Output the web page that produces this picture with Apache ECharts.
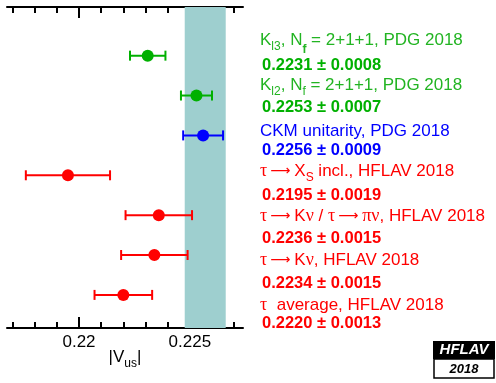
<!DOCTYPE html>
<html>
<head>
<meta charset="utf-8">
<script src="https://cdn.jsdelivr.net/npm/echarts@6/dist/echarts.min.js"></script>
<style>
  html, body { margin: 0; padding: 0; background: #fff; }
  #main { width: 496px; height: 383px; }
</style>
</head>
<body>
<div id="main"></div>
<script>
// measurements, top to bottom
const names = [
  '{t|K}{sub|l3}{t|, N}{subb|f}{t| = 2+1+1, PDG 2018}',
  '{t|K}{sub|l2}{t|, N}{sub|f}{t| = 2+1+1, PDG 2018}',
  '{t|CKM unitarity, PDG 2018}',
  '{g|τ}{arr|⟶}{t|X}{sub|S}{t| incl., HFLAV 2018}',
  '{g|τ}{arr|⟶}{t|K}{g|ν}{t| / }{g|τ}{arr|⟶}{g|πν}{t|, HFLAV 2018}',
  '{g|τ}{arr|⟶}{t|K}{g|ν}{t|, HFLAV 2018}',
  '{g|τ}{t|  average, HFLAV 2018}'
];
const values = [0.2231, 0.2253, 0.2256, 0.2195, 0.2236, 0.2234, 0.2220];
const errors = [0.0008, 0.0007, 0.0009, 0.0019, 0.0015, 0.0015, 0.0013];
const rows = [6, 5, 4, 3, 2, 1, 0];
const colors = ['#00b000', '#00b000', '#0000ff', '#ff0000', '#ff0000', '#ff0000', '#ff0000'];
const textColors = ['#22b422', '#22b422', '#0000ff', '#ff0000', '#ff0000', '#ff0000', '#ff0000'];
const band = [0.22477, 0.22662];

const xMin = 0.21675, xMax = 0.2274;
const majorTicks = [0.22, 0.225];
const minorTicks = [0.217, 0.218, 0.219, 0.220, 0.221, 0.222, 0.223, 0.224, 0.225, 0.226, 0.227];

// label positions (text middle, px)
const nameY = [40, 85, 131, 171, 216, 260, 305];
const valueY = [65, 107, 150, 195, 238, 283, 323];

const chart = echarts.init(document.getElementById('main'));

const richStyles = {
  t: { fontSize: 17, fontFamily: 'Liberation Sans', lineHeight: 20 },
  g: { fontSize: 18, fontFamily: 'Liberation Serif', lineHeight: 20 },
  arr: { fontSize: 14, fontFamily: 'DejaVu Sans', lineHeight: 20, padding: [0, 4, 0, 3] },
  sub: { fontSize: 12, fontFamily: 'Liberation Sans', lineHeight: 13, verticalAlign: 'bottom', padding: [0, 0, -3, 0] },
  subb: { fontSize: 12, fontWeight: 'bold', fontFamily: 'Liberation Sans', lineHeight: 13, verticalAlign: 'bottom', padding: [0, 0, -6, 0] }
};

const graphics = [];
names.forEach(function (n, i) {
  graphics.push({
    type: 'text', x: 260, y: nameY[i],
    style: { text: n, fill: textColors[i], rich: richStyles, font: '17px Liberation Sans', verticalAlign: 'middle' }
  });
  graphics.push({
    type: 'text', x: 262, y: valueY[i],
    style: {
      text: values[i].toFixed(4) + ' ± ' + errors[i].toFixed(4),
      fill: colors[i], font: 'bold 16.5px Liberation Sans', verticalAlign: 'middle'
    }
  });
});
// HFLAV logo
graphics.push({ type: 'rect', shape: { x: 433, y: 341, width: 62, height: 18 }, style: { fill: '#000' } });
graphics.push({ type: 'rect', shape: { x: 434, y: 359, width: 60, height: 19 }, style: { fill: '#fff', stroke: '#000', lineWidth: 1.5 } });
graphics.push({ type: 'text', x: 464, y: 350, style: { text: 'HFLAV', fill: '#fff', font: 'italic bold 15px Liberation Sans', align: 'center', verticalAlign: 'middle' } });
graphics.push({ type: 'text', x: 464, y: 369, style: { text: '2018', fill: '#000', font: 'italic bold 13px Liberation Sans', align: 'center', verticalAlign: 'middle' } });

function tickAxis(pos, custom, len, withLine) {
  return {
    type: 'value', position: pos, min: xMin, max: xMax,
    axisLine: { show: withLine, onZero: false, lineStyle: { color: '#000', width: 2 } },
    axisTick: { show: true, inside: true, length: len, customValues: custom, lineStyle: { color: '#000', width: 2 } },
    axisLabel: { show: false },
    splitLine: { show: false }
  };
}

const xMain = tickAxis('bottom', majorTicks, 11, true);
xMain.axisLabel = {
  show: true, customValues: majorTicks, color: '#000', fontSize: 17,
  fontFamily: 'Liberation Sans', margin: 6,
  formatter: function (v) { return String(+v.toFixed(3)); }
};
xMain.name = '{a||V}{s|us}{a||}';
xMain.nameLocation = 'middle';
xMain.nameGap = 19;
xMain.nameMoveOverlap = false;
xMain.nameTextStyle = {
  rich: {
    a: { fontSize: 17, fontFamily: 'Liberation Sans', color: '#000', lineHeight: 20 },
    s: { fontSize: 12, fontFamily: 'Liberation Sans', color: '#000', lineHeight: 12, verticalAlign: 'bottom', padding: [0, 0, -3, 0] }
  }
};

const data = values.map(function (v, i) { return [v, rows[i], errors[i], i]; });

chart.setOption({
  animation: false,
  grid: { left: 7, right: 253, top: 7, bottom: 55 },
  xAxis: [
    xMain,
    tickAxis('bottom', minorTicks, 6, false),
    tickAxis('top', majorTicks, 11, true),
    tickAxis('top', minorTicks, 6, false)
  ],
  yAxis: { type: 'value', min: -0.83, max: 7.22, show: false },
  graphic: graphics,
  series: [
    {
      type: 'line', data: [], z: 1,
      markArea: {
        silent: true,
        itemStyle: { color: '#9ecfcf' },
        data: [[{ xAxis: band[0] }, { xAxis: band[1] }]]
      }
    },
    {
      type: 'custom', z: 3, data: data,
      renderItem: function (params, api) {
        const v = api.value(0), y = api.value(1), e = api.value(2);
        const c = colors[api.value(3)];
        const p = api.coord([v, y]);
        const lo = api.coord([v - e, y]);
        const hi = api.coord([v + e, y]);
        const st = { stroke: c, lineWidth: 2 };
        return {
          type: 'group',
          children: [
            { type: 'line', shape: { x1: lo[0], y1: p[1], x2: hi[0], y2: p[1] }, style: st },
            { type: 'line', shape: { x1: lo[0], y1: p[1] - 5, x2: lo[0], y2: p[1] + 5 }, style: st },
            { type: 'line', shape: { x1: hi[0], y1: p[1] - 5, x2: hi[0], y2: p[1] + 5 }, style: st },
            { type: 'circle', shape: { cx: p[0], cy: p[1], r: 6 }, style: { fill: c } }
          ]
        };
      }
    }
  ]
});
</script>
</body>
</html>
